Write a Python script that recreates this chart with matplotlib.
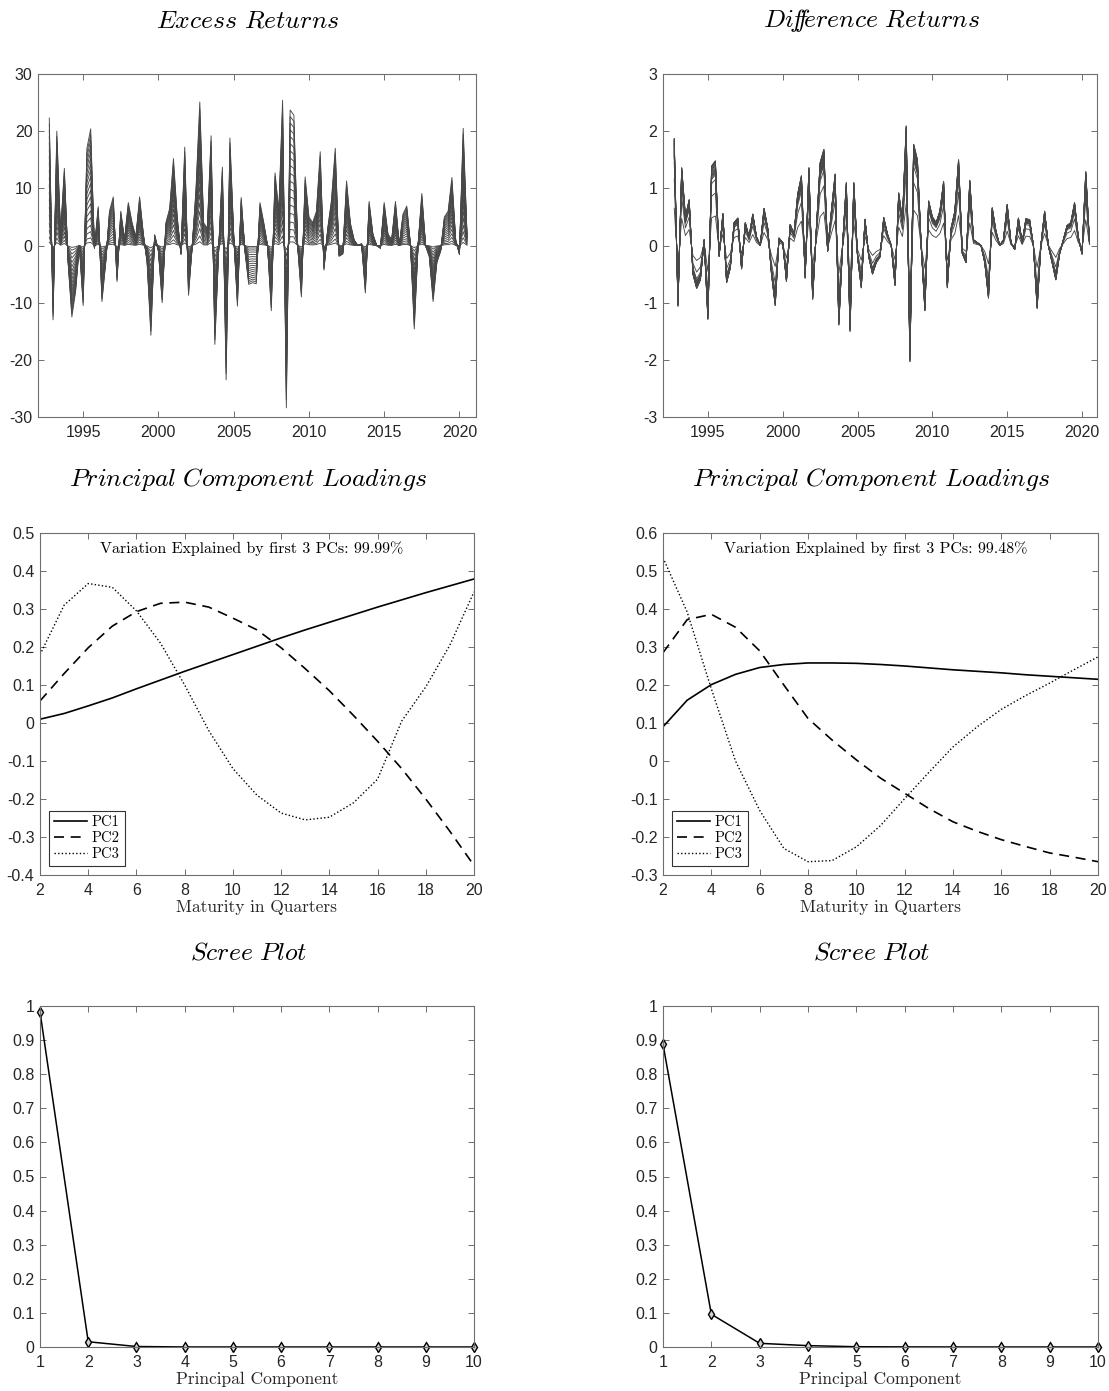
import matplotlib
matplotlib.use("Agg")
import matplotlib.pyplot as plt
import numpy as np
from matplotlib.ticker import FuncFormatter

plt.rcParams['font.family'] = ['Liberation Sans', 'DejaVu Sans']
plt.rcParams['mathtext.fontset'] = 'cm'
plt.rcParams['axes.unicode_minus'] = False

# quarterly sample, first quarter 1992Q4 (1992.75)
start_year = 1992.75

# excess return of the longest (20 quarter) bond
excess_long = [
    22.3,
    -13.0, 20.0, 2.0, 13.5,
    -3.0, -12.5, -8.0, 0.0,
    -10.5, 17.0, 20.4, -0.5,
    6.8, -9.8, -3.0, 6.0,
    8.5, -6.3, 6.0, 1.0,
    7.5, 4.0, 1.5, 8.5,
    2.0, -3.0, -15.7, 1.9,
    -1.0, -10.0, 4.0, 6.5,
    15.2, 5.0, -1.6, 17.2,
    -8.7, 0.0, 10.0, 25.1,
    4.0, 3.0, 19.2, -17.3,
    -1.0, 13.7, -23.5, 18.8,
    2.0, -10.6, 8.4, -1.0,
    -6.8, -6.5, -6.7, 7.5,
    4.0, 0.0, -11.4, 12.7,
    6.0, 25.4, -28.4, 23.7,
    22.8, 0.0, -9.0, 12.0,
    5.0, 4.0, 6.0, 16.4,
    -4.3, 3.0, 8.0, 17.0,
    -1.9, -1.5, 11.3, 4.0,
    1.0, 0.0, 0.3, -8.3,
    7.7, 2.0, 0.0, -0.5,
    7.5, 2.0, 1.0, 7.7,
    0.0, 5.5, 6.9, 0.0,
    -14.6, 0.0, 9.1, 0.0,
    -2.0, -9.8, -3.0, -1.0,
    5.0, 6.0, 11.9, 1.0,
    -1.6, 20.5, 2.0,
]

# difference returns (largest-loading maturity)
diff_main = [
    1.87,
    -1.06, 1.36, 0.50, 0.80,
    -0.50, -0.75, -0.60, 0.10,
    -1.29, 1.39, 1.48, -0.19,
    0.56, -0.65, -0.39, 0.40,
    0.48, -0.41, 0.40, 0.15,
    0.55, 0.15, 0.00, 0.65,
    0.30, -0.50, -1.05, 0.13,
    0.05, -0.63, 0.37, 0.20,
    0.90, 1.22, -0.57, 1.36,
    -0.94, 0.30, 1.45, 1.68,
    -0.10, 0.60, 1.25, -1.39,
    0.00, 1.10, -1.50, 1.10,
    -0.20, -0.74, 0.46, -0.20,
    -0.50, -0.30, -0.20, 0.49,
    0.20, 0.00, -0.70, 0.92,
    0.45, 2.09, -2.03, 1.77,
    1.50, 0.00, -1.14, 0.78,
    0.50, 0.40, 0.60, 1.12,
    -0.74, 0.30, 0.60, 1.50,
    -0.14, -0.30, 1.14, 0.10,
    0.05, 0.00, -0.30, -0.92,
    0.66, 0.25, 0.00, 0.10,
    0.72, 0.05, -0.07, 0.48,
    0.05, 0.47, 0.45, 0.00,
    -1.10, 0.00, 0.60, 0.00,
    -0.30, -0.60, -0.15, 0.10,
    0.35, 0.40, 0.75, 0.15,
    -0.15, 1.29, 0.05,
]

maturities = list(range(2, 21))

# PC loadings, excess returns
ex_pc1 = [0.010, 0.025, 0.045, 0.066, 0.090, 0.113, 0.136, 0.158, 0.180, 0.202,
          0.224, 0.245, 0.265, 0.285, 0.305, 0.324, 0.343, 0.361, 0.379]
ex_pc2 = [0.058, 0.130, 0.198, 0.255, 0.293, 0.315, 0.318, 0.305, 0.276, 0.245,
          0.198, 0.143, 0.085, 0.020, -0.048, -0.120, -0.200, -0.285, -0.375]
ex_pc3 = [0.180, 0.310, 0.367, 0.357, 0.295, 0.210, 0.100, -0.020, -0.120, -0.190,
          -0.237, -0.255, -0.248, -0.210, -0.148, 0.005, 0.095, 0.205, 0.345]

# PC loadings, difference returns
df_pc1 = [0.090, 0.160, 0.201, 0.228, 0.246, 0.254, 0.258, 0.258, 0.257, 0.254,
          0.250, 0.245, 0.240, 0.236, 0.232, 0.227, 0.223, 0.219, 0.215]
df_pc2 = [0.285, 0.372, 0.386, 0.352, 0.290, 0.200, 0.112, 0.055, 0.003, -0.045,
          -0.085, -0.125, -0.160, -0.185, -0.207, -0.225, -0.242, -0.253, -0.265]
df_pc3 = [0.535, 0.392, 0.190, 0.000, -0.130, -0.230, -0.265, -0.262, -0.226, -0.170,
          -0.099, -0.030, 0.037, 0.090, 0.136, 0.172, 0.205, 0.240, 0.274]

components = list(range(1, 11))
ex_scree = [0.9831, 0.0154, 0.0014, 0.0001, 0.0, 0.0, 0.0, 0.0, 0.0, 0.0]
df_scree = [0.8880, 0.0960, 0.0108, 0.0040, 0.0008, 0.0003, 0.0001, 0.0, 0.0, 0.0]

ex_expl = "99.99"
df_expl = "99.48"

W, H = 1109, 1391
fig = plt.figure(figsize=(W / 100, H / 100), dpi=100)
serif = 'cmr10'


def make_ax(l, r, t, b):
    ax = fig.add_axes([l / W, 1 - b / H, (r - l) / W, (b - t) / H])
    for s in ax.spines.values():
        s.set_color('#6e6e6e')
        s.set_linewidth(0.8)
    ax.tick_params(direction='in', top=True, right=True, length=4, width=0.7,
                   color='#6e6e6e', labelsize=11.5, labelcolor='#262626')
    ax.tick_params(axis='x', pad=6)
    ax.tick_params(axis='y', pad=4)
    ax._px = (r - l, b - t)
    return ax


fmt = FuncFormatter(lambda v, p: '0' if abs(v) < 1e-9 else f'{round(v, 2):g}')


def title(ax, s):
    w, h = ax._px
    ax.text(0.5 - 9 / w, 1 + 54 / h, r'$\mathit{' + s.replace(' ', r'\ ') + '}$',
            transform=ax.transAxes, ha='center', va='center', fontsize=18.5)


dates = start_year + 0.25 * np.arange(len(excess_long))

# --- top row: returns ---
ax1 = make_ax(38, 476, 74, 417)
ex_arr = np.array(excess_long)
for w in ex_pc1:
    ax1.plot(dates, ex_arr * w / ex_pc1[-1], color='#484848', lw=0.65)
ax1.set_xlim(1992.0, 2021.1)
ax1.set_ylim(-30, 30)
ax1.set_yticks(np.arange(-30, 31, 10))
ax1.set_xticks(np.arange(1995, 2021, 5))
title(ax1, 'Excess Returns')

ax2 = make_ax(663, 1097, 74, 417)
df_arr = np.array(diff_main)
for w in df_pc1:
    ax2.plot(dates, df_arr * w / max(df_pc1), color='#484848', lw=0.65)
ax2.set_xlim(1992.0, 2021.0)
ax2.set_ylim(-3, 3)
ax2.set_yticks(np.arange(-3, 4, 1))
ax2.set_xticks(np.arange(1995, 2021, 5))
title(ax2, r'Di\!f\!\!f\!erence Returns')

# --- middle row: loadings ---
for (l, r), pcs, expl, ylim in [((40, 474), (ex_pc1, ex_pc2, ex_pc3), ex_expl, (-0.4, 0.5)),
                                ((663, 1098), (df_pc1, df_pc2, df_pc3), df_expl, (-0.3, 0.6))]:
    ax = make_ax(l, r, 533, 875)
    ax.plot(maturities, pcs[0], color='k', lw=1.2, label='PC1')
    ax.plot(maturities, pcs[1], color='k', lw=1.2, ls=(0, (6, 4)), label='PC2')
    ax.plot(maturities, pcs[2], color='k', lw=1.0, ls=(0, (1, 1.6)), label='PC3')
    ax.set_xlim(2, 20)
    ax.set_xticks(np.arange(2, 21, 2))
    ax.set_ylim(*ylim)
    ax.set_yticks(np.arange(ylim[0], ylim[1] + 0.01, 0.1))
    ax.yaxis.set_major_formatter(fmt)
    ax.set_xlabel('Maturity in Quarters', fontsize=12.5, labelpad=1,
                  color='#262626', family=serif)
    ax.text(0.5 - 5 / (r - l), 0.953, 'Variation Explained by first 3 PCs: ' + expl + '%',
            transform=ax.transAxes, ha='center', va='center', fontsize=11.5, family=serif)
    leg = ax.legend(loc='lower left', prop={'family': serif, 'size': 10.5},
                    frameon=True, fancybox=False,
                    edgecolor='k', handlelength=2.3, handletextpad=0.3,
                    labelspacing=0.15, borderpad=0.35, borderaxespad=0.6)
    leg.get_frame().set_linewidth(0.8)
    title(ax, 'Principal Component Loadings')

# --- bottom row: scree ---
for (l, r), vals in [((40, 474), ex_scree), ((663, 1098), df_scree)]:
    ax = make_ax(l, r, 1006, 1347)
    ax.plot(components, vals, color='k', lw=1.1, marker='d', ms=5,
            mfc='#d0d0d0', mec='k', mew=1.0, clip_on=False)
    ax.set_xlim(1, 10)
    ax.set_xticks(components)
    ax.set_ylim(0, 1)
    ax.set_yticks(np.arange(0, 1.01, 0.1))
    ax.yaxis.set_major_formatter(fmt)
    ax.set_xlabel('Principal Component', fontsize=12.5, labelpad=1,
                  color='#262626', family=serif)
    title(ax, 'Scree Plot')

fig.savefig('out.png', dpi=100)
